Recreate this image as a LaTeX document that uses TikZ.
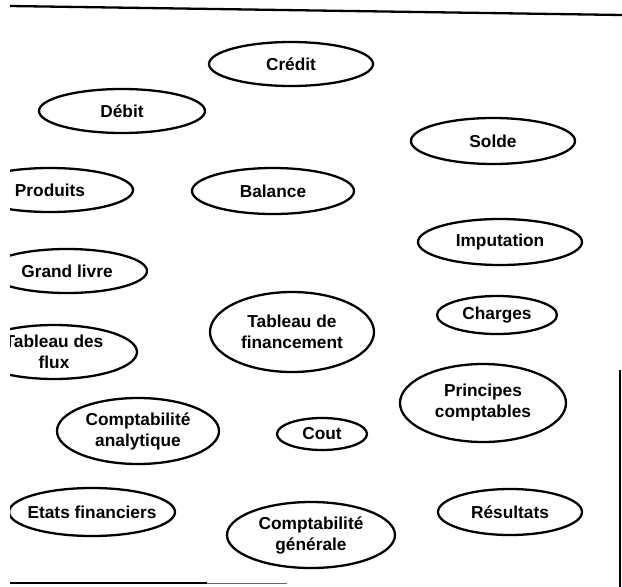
\documentclass[tikz,border=0pt]{standalone}
\usepackage{fontspec}
\setmainfont{Liberation Sans}
\begin{document}
\begin{tikzpicture}[x=1pt,y=-1pt,
  lbl/.style={inner sep=0pt, align=center, font=\fontsize{17.3}{21}\selectfont\bfseries},
  oval/.style={line width=2.3pt},
  rule/.style={line width=2.3pt}]
\useasboundingbox (0,0) rectangle (622,587);
\begin{scope}
\clip (10,0) rectangle (622,587);
\node[lbl] (credit) at (291,64) {Crédit};
\draw[oval] (credit.center) ellipse [x radius=82pt, y radius=22pt];
\node[lbl] (debit) at (122,111) {Débit};
\draw[oval] (debit.center) ellipse [x radius=83pt, y radius=22pt];
\node[lbl] (solde) at (493,141) {Solde};
\draw[oval] (solde.center) ellipse [x radius=82pt, y radius=23pt];
\node[lbl] (produits) at (50,190) {Produits};
\draw[oval] (produits.center) ellipse [x radius=83pt, y radius=22pt];
\node[lbl] (balance) at (273,191) {Balance};
\draw[oval] (balance.center) ellipse [x radius=81pt, y radius=23pt];
\node[lbl] (imputation) at (500,242) {Imputation};
\draw[oval] (imputation.center) ellipse [x radius=82pt, y radius=23pt];
\node[lbl] (grandlivre) at (67,271) {Grand livre};
\draw[oval] (grandlivre.center) ellipse [x radius=80pt, y radius=22pt];
\node[lbl] (charges) at (497,315) {Charges};
\draw[oval] (charges.center) ellipse [x radius=60pt, y radius=19pt];
\node[lbl] (tabfin) at (292,332) {Tableau de\\financement};
\draw[oval] (tabfin.center) ellipse [x radius=82pt, y radius=40pt];
\node[lbl] (tabflux) at (54,352) {Tableau des\\flux};
\draw[oval] (tabflux.center) ellipse [x radius=83pt, y radius=27pt];
\node[lbl] (principes) at (483,403) {Principes\\comptables};
\draw[oval] (principes.center) ellipse [x radius=83pt, y radius=39pt];
\node[lbl] (compana) at (138,431) {Comptabilité\\analytique};
\draw[oval] (compana.center) ellipse [x radius=81pt, y radius=33pt];
\node[lbl] (cout) at (322,434) {Cout};
\draw[oval] (cout.center) ellipse [x radius=45pt, y radius=16pt];
\node[lbl] (etats) at (92,512) {Etats financiers};
\draw[oval] (etats.center) ellipse [x radius=83pt, y radius=24pt];
\node[lbl] (compgen) at (311,535) {Comptabilité\\générale};
\draw[oval] (compgen.center) ellipse [x radius=84pt, y radius=33pt];
\node[lbl] (resultats) at (510,512) {Résultats};
\draw[oval] (resultats.center) ellipse [x radius=72pt, y radius=23pt];
\end{scope}
\coordinate (topL) at (10,6);
\coordinate (topR) at (622,15);
\draw[rule] (topL) -- (topR);
\coordinate (botL) at (10,583);
\coordinate (botM) at (207,583);
\coordinate (botR) at (287,583);
\draw[rule] (botL) -- (botM);
\draw[line width=1pt, black!60] (botM) -- (botR);
\coordinate (vT) at (620,370);
\coordinate (vB) at (620,587);
\draw[line width=1.5pt] (vT) -- (vB);
\end{tikzpicture}
\end{document}
